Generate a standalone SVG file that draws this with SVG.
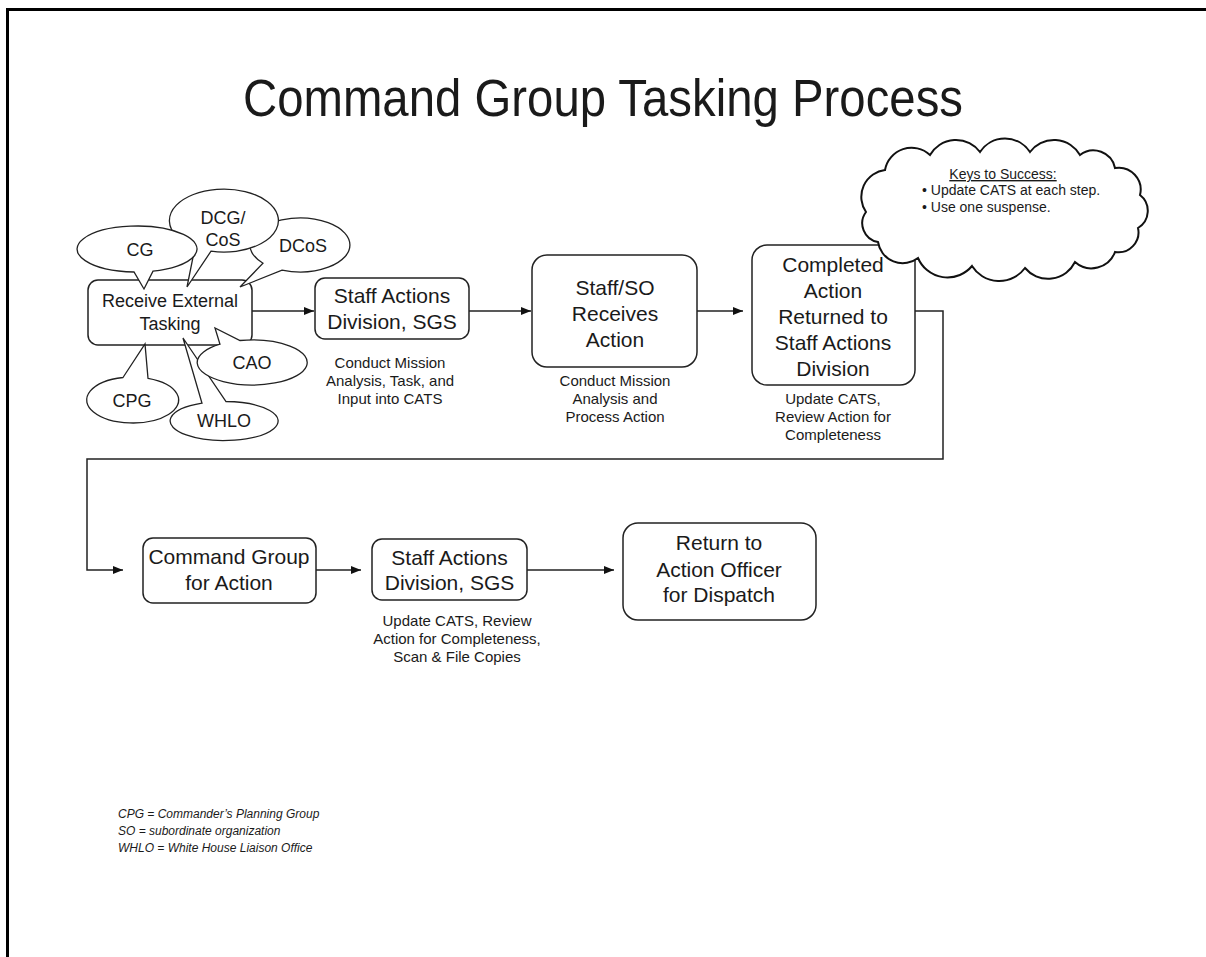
<svg xmlns="http://www.w3.org/2000/svg" width="1206" height="957" viewBox="0 0 1206 957">
<defs>
<marker id="arr" viewBox="0 0 10 8" refX="10" refY="4" markerWidth="10" markerHeight="8" markerUnits="userSpaceOnUse" orient="auto">
<path d="M0,0 L10,4 L0,8 Z" fill="#111"/>
</marker>
<style>
.box{fill:#fff;stroke:#222;stroke-width:1.5}
.call{fill:#fff;stroke:#222;stroke-width:1.3;stroke-linejoin:miter}
.t{font-family:"Liberation Sans",Arial,sans-serif;fill:#1a1a1a;text-anchor:middle}
.n21{font-size:21px}
.n18{font-size:18px}
.s15{font-size:15px}
.k{font-family:"Liberation Sans",Arial,sans-serif;font-size:14px;fill:#1a1a1a}
.leg{font-family:"Liberation Sans",Arial,sans-serif;font-size:12px;font-style:italic;fill:#1a1a1a}
.conn{fill:none;stroke:#222;stroke-width:1.5}
</style>
</defs>
<rect width="1206" height="957" fill="#fff"/>
<path d="M7.5,957 V9.5 H1206" fill="none" stroke="#000" stroke-width="3"/>
<text class="t" x="603" y="116" font-size="51" textLength="720" lengthAdjust="spacingAndGlyphs">Command Group Tasking Process</text>

<g id="connectors">
<path class="conn" d="M252,311 H314" marker-end="url(#arr)"/>
<path class="conn" d="M469,311 H531" marker-end="url(#arr)"/>
<path class="conn" d="M697,311 H743" marker-end="url(#arr)"/>
<path class="conn" d="M915,311 H943 V459 H87 V570 H123" marker-end="url(#arr)"/>
<path class="conn" d="M316,570 H361" marker-end="url(#arr)"/>
<path class="conn" d="M527,570 H614" marker-end="url(#arr)"/>
</g>

<g id="receive">
<rect class="box" x="88" y="280" width="164" height="65" rx="10"/>
<text class="t n18" x="170" y="307">Receive External</text>
<text class="t n18" x="170" y="330">Tasking</text>
</g>
<g id="dcos">
<path class="call" d="M282,270.2 A50,27 0 1 0 263,263.2 L240,287 Z"/>
<text class="t n18" x="303" y="252">DCoS</text>
</g>
<g id="dcg">
<path class="call" d="M211,251.2 A54.5,31.5 0 1 0 195,247.3 L187,287 Z"/>
<text class="t n18" x="223" y="224">DCG/</text>
<text class="t n18" x="223" y="246">CoS</text>
</g>
<g id="cg">
<path class="call" d="M153,271.2 A60,23 0 1 0 134,272 L144,289 Z"/>
<text class="t n18" x="140" y="256">CG</text>
</g>
<g id="cpg">
<path class="call" d="M148,378.3 A46,23 0 1 1 123,377.5 L145,344 Z"/>
<text class="t n18" x="132" y="407">CPG</text>
</g>
<g id="whlo">
<path class="call" d="M226,401.5 A54,19.5 0 1 1 202,403.2 L183,338 Z"/>
<text class="t n18" x="224" y="427">WHLO</text>
</g>
<g id="cao">
<path class="call" d="M240,340.5 A55,22.5 0 1 1 220,344.2 L215,328 Z"/>
<text class="t n18" x="252" y="369">CAO</text>
</g>

<g id="staff1">
<rect class="box" x="315" y="278" width="154" height="61" rx="10"/>
<text class="t n21" x="392" y="303">Staff Actions</text>
<text class="t n21" x="392" y="329">Division, SGS</text>
<text class="t s15" x="390" y="368">Conduct Mission</text>
<text class="t s15" x="390" y="386">Analysis, Task, and</text>
<text class="t s15" x="390" y="404">Input into CATS</text>
</g>
<g id="staffso">
<rect class="box" x="532" y="255" width="165" height="112" rx="15"/>
<text class="t n21" x="615" y="295">Staff/SO</text>
<text class="t n21" x="615" y="321">Receives</text>
<text class="t n21" x="615" y="347">Action</text>
<text class="t s15" x="615" y="386">Conduct Mission</text>
<text class="t s15" x="615" y="404">Analysis and</text>
<text class="t s15" x="615" y="422">Process Action</text>
</g>
<g id="completed">
<rect class="box" x="752" y="245" width="163" height="140" rx="15"/>
<text class="t n21" x="833" y="272">Completed</text>
<text class="t n21" x="833" y="298">Action</text>
<text class="t n21" x="833" y="324">Returned to</text>
<text class="t n21" x="833" y="350">Staff Actions</text>
<text class="t n21" x="833" y="376">Division</text>
<text class="t s15" x="833" y="404">Update CATS,</text>
<text class="t s15" x="833" y="422">Review Action for</text>
<text class="t s15" x="833" y="440">Completeness</text>
</g>
<g id="keys">
<path fill="#fff" stroke="#111" stroke-width="2" d="M885,170 A27,27 0 0 1 930,155 A30,30 0 0 1 980,152 A30,30 0 0 1 1030,152 A30,30 0 0 1 1080,155 A22,22 0 0 1 1115,168 A22,22 0 0 1 1140,195 A20,20 0 0 1 1138,228 A20,20 0 0 1 1115,252 A25,25 0 0 1 1075,262 A30,30 0 0 1 1025,268 A32,32 0 0 1 972,266 A32,32 0 0 1 918,258 A25,25 0 0 1 878,242 A19,19 0 0 1 866,212 A27,27 0 0 1 885,170 Z"/>
<text class="t" font-size="14" x="1003" y="179" text-decoration="underline">Keys to Success:</text>
<text class="k" x="922" y="195">•  Update CATS at each step.</text>
<text class="k" x="922" y="212">•  Use one suspense.</text>
</g>
<g id="cmdgroup">
<rect class="box" x="143" y="538" width="173" height="65" rx="10"/>
<text class="t n21" x="229" y="564">Command Group</text>
<text class="t n21" x="229" y="590">for Action</text>
</g>
<g id="staff2">
<rect class="box" x="372" y="539" width="155" height="61" rx="10"/>
<text class="t n21" x="449.5" y="565">Staff Actions</text>
<text class="t n21" x="449.5" y="590">Division, SGS</text>
<text class="t s15" x="457" y="626">Update CATS, Review</text>
<text class="t s15" x="457" y="644">Action for Completeness,</text>
<text class="t s15" x="457" y="662">Scan &amp; File Copies</text>
</g>
<g id="return">
<rect class="box" x="623" y="523" width="193" height="97" rx="15"/>
<text class="t n21" x="719" y="550">Return to</text>
<text class="t n21" x="719" y="577">Action Officer</text>
<text class="t n21" x="719" y="602">for Dispatch</text>
</g>
<g id="legend">
<text class="leg" x="118" y="818">CPG = Commander’s Planning Group</text>
<text class="leg" x="118" y="835">SO = subordinate organization</text>
<text class="leg" x="118" y="852">WHLO = White House Liaison Office</text>
</g>
</svg>
